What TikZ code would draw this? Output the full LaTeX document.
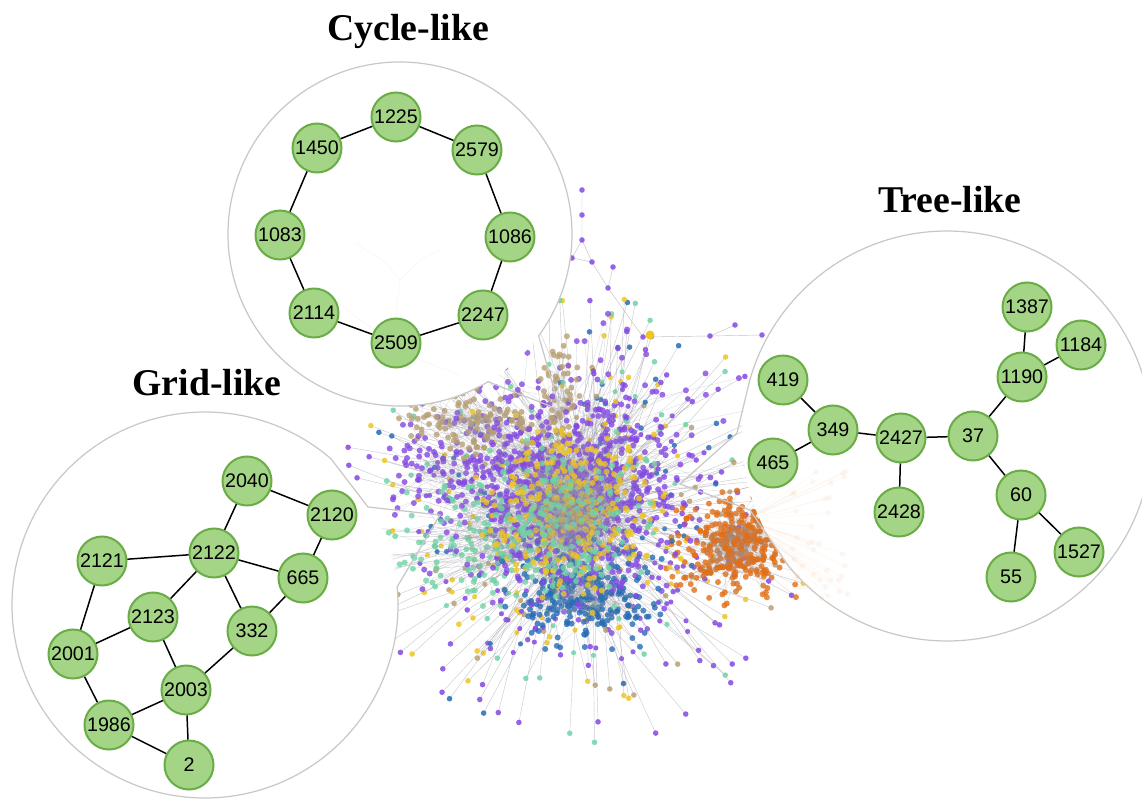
\documentclass[tikz,border=0pt]{standalone}
\usepackage{fontspec}
\usepackage{tikz}
\usetikzlibrary{calc}
\setmainfont{Liberation Serif}
\newfontfamily\labelfont{Liberation Sans}
\definecolor{nodegreen}{RGB}{164, 212, 134}
\definecolor{nodeedge}{RGB}{106, 172, 70}
\definecolor{lensgray}{RGB}{200, 200, 200}
\definecolor{hpurple}{RGB}{132, 72, 228}
\definecolor{hgold}{RGB}{238, 198, 36}
\definecolor{hmint}{RGB}{112, 212, 166}
\definecolor{htan}{RGB}{184, 160, 116}
\definecolor{hblue}{RGB}{38, 108, 182}
\definecolor{horange}{RGB}{226, 110, 22}
\definecolor{hline}{RGB}{150, 150, 162}
\pgfmathdeclarerandomlist{mixhue}{{hpurple}{hpurple}{hpurple}{hpurple}{hgold}{hgold}{hmint}{htan}{hblue}}

\begin{document}
\begin{tikzpicture}[x=0.02cm, y=-0.02cm,
    gnode/.style={circle, draw=nodeedge, line width=1.15pt, fill=nodegreen,
        minimum size=0.98cm, inner sep=0pt,
        font=\labelfont\fontsize{11.2}{12}\selectfont},
    gedge/.style={line width=0.85pt, black},
    lens/.style={draw=lensgray, line width=0.7pt},
    title/.style={font=\bfseries\fontsize{21.5}{24}\selectfont, anchor=base},
    hedge/.style={hline, line width=0.25pt, opacity=0.3},
    ghost/.style={line width=0.4pt, opacity=0.08}]
        \useasboundingbox (0,0) rectangle (1142,808);
        \pgfmathsetseed{12}

        \draw[ghost, htan] (355,243) -- (385,262) -- (400,280) -- (420,260) -- (440,250)
            (400,280) -- (395,320) -- (420,360) -- (460,375) (310,280) -- (360,320) -- (420,360);
        \foreach \i in {1,...,40} {
            \pgfmathsetmacro\ex{790+60*rnd}
            \pgfmathsetmacro\ey{470+130*rnd}
            \draw[ghost, horange!60] (745,520) -- (\ex,\ey);
            \fill[horange, opacity=0.06] (\ex,\ey) circle[radius=2.8];
        }

        \begin{scope}[even odd rule]
        \clip (0,0) rectangle (1142,808)
            (400,234) circle[radius=172] (947,436) circle[radius=205] (205,605) circle[radius=193];
        \foreach \i in {1,...,240} {
            \pgfmathsetmacro\ang{360*rnd}
            \pgfmathsetmacro\len{90+150*rnd}
            \pgfmathsetmacro\sx{575+40*rand}
            \pgfmathsetmacro\sy{520+35*rand}
            \pgfmathsetmacro\ex{575+\len*cos(\ang)}
            \pgfmathsetmacro\ey{520+0.95*\len*sin(\ang)}
            \pgfmathrandomitem{\hue}{mixhue}
            \draw[hedge, opacity=0.5] (\sx,\sy) -- (\ex,\ey);
            \fill[\hue, opacity=0.85] (\ex,\ey) circle[radius=2.8];
            \fill[\hue, opacity=0.85] ($(\sx,\sy)!0.65!(\ex,\ey)$) circle[radius=2.6];
        }
        \foreach \cx/\cy/\sx/\sy/\n/\hue in {560/470/75/60/300/hpurple, 450/470/40/30/80/hpurple,
                500/530/50/35/200/hmint, 470/420/35/20/120/htan, 560/400/10/35/60/htan,
                735/545/28/22/350/horange, 585/592/32/24/280/hblue, 570/500/45/40/650/hpurple,
                570/510/40/40/300/hgold, 570/520/40/35/150/hmint} {
            \foreach \i in {1,...,\n} {
                \pgfmathsetmacro\ax{\cx+\sx*(rand+rand+rand)}
                \pgfmathsetmacro\ay{\cy+\sy*(rand+rand+rand)}
                \pgfmathsetmacro\bx{\cx+0.6*\sx*(rand+rand)}
                \pgfmathsetmacro\by{\cy+0.6*\sy*(rand+rand)}
                \draw[hedge] (\bx,\by) -- (\ax,\ay);
                \fill[\hue, opacity=0.8] (\ax,\ay) circle[radius=3];
            }
        }
        \draw[hedge, opacity=0.6] (582,190) -- (582,215) -- (582,240) -- (572,258) -- (592,262)
            -- (608,288) -- (643,337) -- (710,336) -- (762,335);
        \draw[hedge, opacity=0.6] (582,240) -- (592,262) (613,267) -- (608,288) (710,336) -- (735,325);
        \foreach \x/\y in {582/190, 582/215, 582/240, 572/258, 592/262, 613/267, 608/288,
                643/337, 710/336, 735/325, 762/335}
            \fill[hpurple, opacity=0.85] (\x,\y) circle[radius=2.8];
        \fill[hgold] (650,335) circle[radius=4.5];
        \end{scope}

        \draw[lens] (400,234) ++(59.2:172) arc[start angle=59.2, end angle=396.3, radius=172]
            -- (560,410) -- cycle;
        \draw[lens] (947,436) ++(140.4:205) arc[start angle=140.4, end angle=-164.4, radius=205]
            -- (737,433) -- (680,484) -- (750,510) -- cycle;
        \draw[lens] (205,605) ++(310.8:193) arc[start angle=310.8, end angle=-5.4, radius=193]
            -- (440,515) -- (368,507) -- cycle;

        \node[title] (cycletitle) at (408,40) {Cycle-like};
        \node[title] (treetitle) at (950,212) {Tree-like};
        \node[title] (gridtitle) at (207,395) {Grid-like};

        \node[gnode] (c1225) at (396,117) {1225};
        \node[gnode] (c2579) at (477,150) {2579};
        \node[gnode] (c1086) at (510,237) {1086};
        \node[gnode] (c2247) at (483,315) {2247};
        \node[gnode] (c2509) at (396,343) {2509};
        \node[gnode] (c2114) at (314,313) {2114};
        \node[gnode] (c1083) at (280,235) {1083};
        \node[gnode] (c1450) at (317,148) {1450};

        \node[gnode] (t419) at (783,380) {419};
        \node[gnode] (t349) at (833,430) {349};
        \node[gnode] (t465) at (773,463) {465};
        \node[gnode] (t2427) at (901,438) {2427};
        \node[gnode] (t2428) at (899,512) {2428};
        \node[gnode] (t37) at (973,436) {37};
        \node[gnode] (t1190) at (1022,377) {1190};
        \node[gnode] (t1387) at (1027,307) {1387};
        \node[gnode] (t1184) at (1081,345) {1184};
        \node[gnode] (t60) at (1021,495) {60};
        \node[gnode] (t55) at (1011,577) {55};
        \node[gnode] (t1527) at (1079,552) {1527};

        \node[gnode] (g2040) at (247,481) {2040};
        \node[gnode] (g2120) at (332,515) {2120};
        \node[gnode] (g2122) at (214,553) {2122};
        \node[gnode] (g2121) at (102,561) {2121};
        \node[gnode] (g665) at (303,578) {665};
        \node[gnode] (g2123) at (153,617) {2123};
        \node[gnode] (g332) at (252,631) {332};
        \node[gnode] (g2001) at (73,654) {2001};
        \node[gnode] (g2003) at (186,690) {2003};
        \node[gnode] (g1986) at (109,725) {1986};
        \node[gnode] (g2) at (189,765) {2};

        \draw[gedge] (c1225) -- (c2579) -- (c1086) -- (c2247) -- (c2509) -- (c2114)
            -- (c1083) -- (c1450) -- (c1225);

        \draw[gedge] (t419) -- (t349) -- (t2427) -- (t37) -- (t1190) -- (t1387);
        \draw[gedge] (t465) -- (t349);
        \draw[gedge] (t2427) -- (t2428);
        \draw[gedge] (t1190) -- (t1184);
        \draw[gedge] (t37) -- (t60) -- (t55);
        \draw[gedge] (t60) -- (t1527);

        \draw[gedge] (g2122) -- (g2040) -- (g2120) -- (g665) -- (g332) -- (g2003) -- (g2);
        \draw[gedge] (g2121) -- (g2122) -- (g665);
        \draw[gedge] (g2122) -- (g332);
        \draw[gedge] (g2122) -- (g2123) -- (g2003) -- (g1986) -- (g2);
        \draw[gedge] (g2121) -- (g2001) -- (g1986);
        \draw[gedge] (g2001) -- (g2123);
    \end{tikzpicture}
\end{document}
